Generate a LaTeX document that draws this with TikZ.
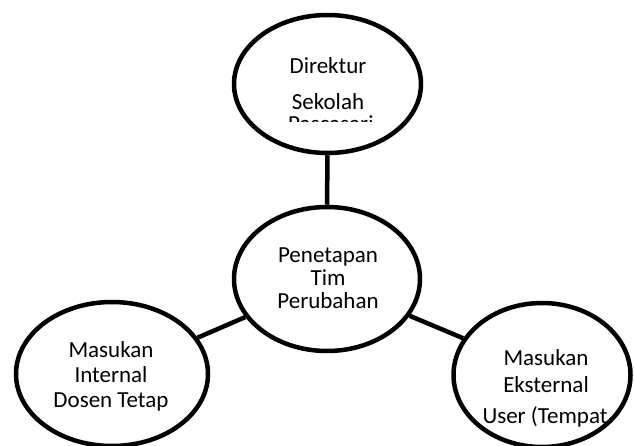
\documentclass[tikz,border=0pt]{standalone}
\usepackage{fontspec}
\setmainfont{Carlito}
\usetikzlibrary{shapes.geometric}
\begin{document}
\begin{tikzpicture}[x=1pt,y=-1pt,
  bub/.style={draw=black, line width=4.5pt, ellipse, inner sep=0pt, fill=white},
  conn/.style={draw=black, line width=4.5pt},
  lbl/.style={anchor=base, inner sep=0pt, font=\fontsize{23}{26}\selectfont}]
\useasboundingbox (0,0) rectangle (634,446);
% ellipses
\node[bub, minimum width=187pt, minimum height=138pt] (dir) at (327.5,84) {};
\node[bub, minimum width=186pt, minimum height=144pt] (tim) at (327,279) {};
\node[bub, minimum width=192pt, minimum height=144pt] (int) at (112,374) {};
\node[bub, minimum width=177pt, minimum height=144pt] (eks) at (542,375) {};
% connectors
\draw[conn] (dir.south) -- (tim.north);
\draw[conn] (tim.205) -- (int.23);
\draw[conn] (tim.336) -- (eks.155);
% texts
\begin{scope}
\clip (200,0) rectangle (450,122);
\node[lbl] (t1) at (328,74) {Direktur};
\node[lbl] (t2) at (328,110) {Sekolah};
\node[lbl, anchor=base west] (t3) at (288,132) {Pascasarj};
\end{scope}
\node[lbl] (c1) at (328,262) {Penetapan};
\node[lbl] (c2) at (328,285) {Tim};
\node[lbl] (c3) at (328,308) {Perubahan};
\node[lbl] (l1) at (111,357) {Masukan};
\node[lbl] (l2) at (111,382) {Internal};
\node[lbl] (l3) at (111,407) {Dosen Tetap};
\begin{scope}
\clip (450,330) rectangle (634,426);
\node[lbl] (r1) at (546,365) {Masukan};
\node[lbl] (r2) at (546,392) {Eksternal};
\node[lbl] (r3) at (545,423) {User (Tempat};
\end{scope}
\end{tikzpicture}
\end{document}
